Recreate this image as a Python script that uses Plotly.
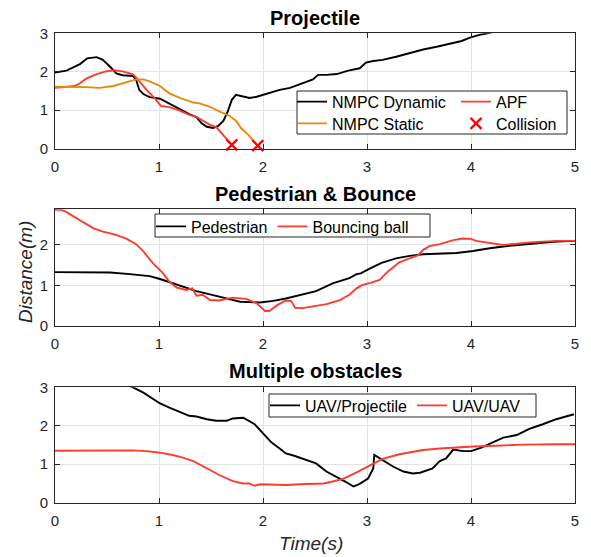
import plotly.graph_objects as go
from plotly.subplots import make_subplots

# ---------------- Data ----------------
# Subplot 1: Projectile
dyn_t = [0, 0.11, 0.24, 0.31, 0.40, 0.46, 0.53, 0.59, 0.65, 0.75, 0.78, 0.81, 0.85, 0.91, 1.01, 1.07,
         1.17, 1.29, 1.36, 1.41, 1.46, 1.52, 1.57, 1.62, 1.66, 1.70, 1.74, 1.81, 1.87, 1.94, 2.03, 2.16,
         2.26, 2.38, 2.48, 2.53, 2.61, 2.71, 2.82, 2.93, 2.99, 3.06, 3.15, 3.28, 3.38, 3.48, 3.54, 3.67,
         3.76, 3.86, 3.91, 3.99, 4.08, 4.16, 4.22]
dyn_d = [1.98, 2.03, 2.20, 2.35, 2.38, 2.31, 2.13, 1.96, 1.91, 1.89, 1.79, 1.53, 1.42, 1.34, 1.30, 1.21,
         1.08, 0.90, 0.82, 0.66, 0.57, 0.54, 0.59, 0.73, 0.96, 1.27, 1.40, 1.35, 1.32, 1.35, 1.42, 1.53,
         1.58, 1.70, 1.80, 1.92, 1.92, 1.94, 2.03, 2.09, 2.24, 2.28, 2.31, 2.39, 2.46, 2.52, 2.58, 2.65,
         2.71, 2.78, 2.80, 2.89, 2.96, 3.00, 3.04]

apf_t = [0, 0.11, 0.19, 0.24, 0.30, 0.40, 0.49, 0.57, 0.65, 0.75, 0.80, 0.88, 0.96, 1.02, 1.10, 1.20,
         1.29, 1.36, 1.42, 1.49, 1.55, 1.60, 1.65, 1.70]
apf_d = [1.58, 1.60, 1.63, 1.70, 1.82, 1.94, 2.01, 2.04, 2.01, 1.93, 1.79, 1.53, 1.31, 1.11, 1.08, 0.99,
         0.88, 0.83, 0.73, 0.62, 0.56, 0.40, 0.24, 0.10]

sta_t = [0, 0.17, 0.30, 0.43, 0.56, 0.69, 0.78, 0.85, 0.91, 1.01, 1.10, 1.20, 1.33, 1.39, 1.49, 1.58,
         1.68, 1.74, 1.79, 1.86, 1.92, 1.95]
sta_d = [1.61, 1.61, 1.60, 1.58, 1.63, 1.73, 1.80, 1.80, 1.75, 1.63, 1.44, 1.32, 1.20, 1.18, 1.09, 0.97,
         0.85, 0.73, 0.53, 0.36, 0.16, 0.07]

col_t = [1.70, 1.95]
col_d = [0.10, 0.08]

# Subplot 2: Pedestrian & Bounce
ped_t = [0, 0.27, 0.53, 0.72, 0.91, 1.01, 1.10, 1.23, 1.36, 1.49, 1.65, 1.78, 1.97, 2.10, 2.22, 2.30,
         2.38, 2.51, 2.67, 2.83, 2.90, 2.94, 3.03, 3.14, 3.28, 3.41, 3.54, 3.70, 3.86, 4.02, 4.18, 4.37,
         4.56, 4.79, 5.0]
ped_d = [1.33, 1.33, 1.32, 1.28, 1.23, 1.16, 1.08, 0.97, 0.86, 0.78, 0.68, 0.60, 0.58, 0.62, 0.68, 0.73,
         0.77, 0.86, 1.05, 1.18, 1.28, 1.30, 1.42, 1.56, 1.67, 1.73, 1.77, 1.79, 1.80, 1.85, 1.92, 1.98,
         2.03, 2.08, 2.10]

ball_t = [0, 0.06, 0.11, 0.21, 0.30, 0.37, 0.46, 0.59, 0.69, 0.78, 0.85, 0.94, 1.04, 1.10, 1.17, 1.26,
          1.32, 1.36, 1.42, 1.49, 1.58, 1.71, 1.84, 1.94, 2.02, 2.06, 2.14, 2.22, 2.27, 2.31, 2.38, 2.48,
          2.61, 2.74, 2.83, 2.90, 2.95, 3.04, 3.12, 3.20, 3.31, 3.41, 3.49, 3.54, 3.60, 3.70, 3.83, 3.92,
          4.00, 4.05, 4.18, 4.31, 4.44, 4.60, 4.82, 5.0]
ball_d = [2.87, 2.87, 2.81, 2.66, 2.53, 2.41, 2.33, 2.25, 2.15, 2.02, 1.84, 1.55, 1.30, 1.09, 0.95, 0.89,
          0.93, 0.75, 0.77, 0.64, 0.63, 0.70, 0.67, 0.56, 0.37, 0.37, 0.52, 0.63, 0.62, 0.45, 0.44, 0.49,
          0.54, 0.64, 0.77, 0.93, 1.01, 1.07, 1.14, 1.34, 1.57, 1.67, 1.74, 1.88, 1.97, 2.02, 2.12, 2.16,
          2.15, 2.10, 2.05, 2.00, 2.03, 2.07, 2.10, 2.10]

# Subplot 3: Multiple obstacles
proj_t = [0.70, 0.75, 0.85, 0.93, 1.01, 1.10, 1.20, 1.29, 1.36, 1.46, 1.55, 1.65, 1.71, 1.81, 1.92, 2.00,
          2.08, 2.16, 2.22, 2.30, 2.38, 2.51, 2.61, 2.71, 2.79, 2.87, 2.93, 3.01, 3.06, 3.07, 3.15, 3.25,
          3.35, 3.44, 3.51, 3.57, 3.63, 3.70, 3.76, 3.83, 3.92, 4.00, 4.10, 4.21, 4.31, 4.44, 4.56, 4.69,
          4.82, 4.99]
proj_d = [3.05, 3.00, 2.86, 2.71, 2.58, 2.47, 2.37, 2.26, 2.24, 2.17, 2.13, 2.13, 2.19, 2.21, 2.04, 1.80,
          1.57, 1.41, 1.28, 1.22, 1.15, 1.02, 0.81, 0.67, 0.55, 0.42, 0.49, 0.63, 0.89, 1.24, 1.11, 0.94,
          0.81, 0.76, 0.78, 0.83, 0.89, 1.08, 1.15, 1.38, 1.34, 1.34, 1.43, 1.57, 1.69, 1.76, 1.92, 2.04,
          2.17, 2.30]

uav_t = [0, 0.43, 0.75, 0.88, 1.01, 1.13, 1.23, 1.33, 1.46, 1.58, 1.71, 1.81, 1.87, 1.92, 1.97, 2.10,
         2.22, 2.35, 2.45, 2.58, 2.67, 2.77, 2.90, 3.03, 3.15, 3.31, 3.47, 3.54, 3.70, 3.86, 4.02, 4.24,
         4.50, 4.82, 5.0]
uav_d = [1.35, 1.35, 1.36, 1.34, 1.30, 1.24, 1.17, 1.08, 0.89, 0.72, 0.56, 0.50, 0.50, 0.44, 0.48, 0.46,
         0.46, 0.48, 0.49, 0.50, 0.55, 0.62, 0.79, 0.98, 1.14, 1.26, 1.33, 1.37, 1.41, 1.44, 1.46, 1.48,
         1.51, 1.52, 1.52]

x_ticks = [0, 1, 2, 3, 4, 5]
y_ticks = [0, 1, 2, 3]
titles = ["Projectile", "Pedestrian & Bounce", "Multiple obstacles"]

# ---------------- Style ----------------
BLACK = "#000000"
RED = "#FF3B2E"
ORANGE = "#E8890C"
FONT = "Liberation Sans, Arial, sans-serif"
AX = "#262626"
LW = 1.9

W, H = 591, 557
ML, MR, MT, MB = 55, 16, 33, 54
PW = W - ML - MR
PH = H - MT - MB
LEG_OFF = 17   # legend top -> item centre
SAMPLE_OFF = 8  # legend left -> sample line start


def px_x(p):
    return (p - ML) / PW


def px_y(p):
    return (H - MB - p) / PH


fig = make_subplots(rows=3, cols=1)

fig.add_trace(go.Scatter(x=dyn_t, y=dyn_d, mode="lines", name="NMPC Dynamic",
                         line=dict(color=BLACK, width=LW), legend="legend"), row=1, col=1)
fig.add_trace(go.Scatter(x=apf_t, y=apf_d, mode="lines", name="APF",
                         line=dict(color=RED, width=LW), legend="legend2"), row=1, col=1)
fig.add_trace(go.Scatter(x=sta_t, y=sta_d, mode="lines", name="NMPC Static",
                         line=dict(color=ORANGE, width=LW), legend="legend3"), row=1, col=1)
fig.add_trace(go.Scatter(x=col_t, y=col_d, mode="markers", name="Collision",
                         marker=dict(symbol="x-thin", size=11, color="#FF0000",
                                     line=dict(color="#FF0000", width=2.2)),
                         cliponaxis=False, legend="legend4"), row=1, col=1)

fig.add_trace(go.Scatter(x=ped_t, y=ped_d, mode="lines", name="Pedestrian",
                         line=dict(color=BLACK, width=LW), legend="legend5"), row=2, col=1)
fig.add_trace(go.Scatter(x=ball_t, y=ball_d, mode="lines", name="Bouncing ball",
                         line=dict(color=RED, width=LW), legend="legend5"), row=2, col=1)

fig.add_trace(go.Scatter(x=proj_t, y=proj_d, mode="lines", name="UAV/Projectile",
                         line=dict(color=BLACK, width=LW), legend="legend6"), row=3, col=1)
fig.add_trace(go.Scatter(x=uav_t, y=uav_d, mode="lines", name="UAV/UAV",
                         line=dict(color=RED, width=LW), legend="legend6"), row=3, col=1)

for tr in fig.data:
    tr.showlegend = True

# domains (pixels of plot boxes)
boxes = [(33.3, 148.7), (209.3, 326.0), (387.3, 502.7)]
yranges = [[0, 3], [0, 2.88], [0, 3]]
yticks_each = [y_ticks, [0, 1, 2], y_ticks]

axis_common = dict(showline=True, linecolor=AX, linewidth=1, mirror="ticks",
                   ticks="inside", ticklen=5, tickcolor=AX, tickwidth=1,
                   showgrid=True, gridcolor="#E3E3E3", gridwidth=1, zeroline=False,
                   tickfont=dict(family=FONT, size=15, color=AX))

for i in range(3):
    top, bot = boxes[i]
    fig.update_xaxes(range=[0, 5], tickvals=x_ticks, ticktext=[str(v) for v in x_ticks],
                     domain=[0, 1], ticklabelstandoff=4, row=i + 1, col=1, **axis_common)
    fig.update_yaxes(range=yranges[i], tickvals=yticks_each[i],
                     ticktext=[str(v) for v in yticks_each[i]], ticklabelstandoff=3,
                     domain=[px_y(bot), px_y(top)], row=i + 1, col=1, **axis_common)

title_y = [18, 194, 371]
annotations = []
for t, yy in zip(titles, title_y):
    annotations.append(dict(text="<b>%s</b>" % t, x=0.5, y=px_y(yy), xref="paper", yref="paper",
                            xanchor="center", yanchor="middle", showarrow=False,
                            font=dict(family=FONT, size=20, color="#000000")))
annotations.append(dict(text="<i>Distance(m)</i>", x=px_x(25), y=px_y(272), xref="paper", yref="paper",
                        xanchor="center", yanchor="middle", textangle=-90, showarrow=False,
                        font=dict(family=FONT, size=19, color=AX)))
annotations.append(dict(text="<i>Time(s)</i>", x=px_x(311), y=px_y(543), xref="paper", yref="paper",
                        xanchor="center", yanchor="middle", showarrow=False,
                        font=dict(family=FONT, size=19, color=AX)))

leg_font = dict(family=FONT, size=16, color="#000000")


def leg(sample_x, centre_y, orient="v"):
    return dict(x=px_x(sample_x - SAMPLE_OFF), y=px_y(centre_y - LEG_OFF),
                xanchor="left", yanchor="top", bgcolor="rgba(0,0,0,0)", borderwidth=0,
                font=leg_font, orientation=orient, tracegroupgap=0)


def box(x0, x1, y0, y1):
    return dict(type="rect", xref="paper", yref="paper",
                x0=px_x(x0), x1=px_x(x1), y0=px_y(y1), y1=px_y(y0),
                line=dict(color=AX, width=1), fillcolor="white", layer="above")


fig.update_layout(
    width=W, height=H,
    margin=dict(l=ML, r=MR, t=MT, b=MB),
    plot_bgcolor="white", paper_bgcolor="white",
    showlegend=True,
    annotations=annotations,
    shapes=[box(297, 567, 91, 134), box(155, 430, 214, 237), box(269, 536, 394, 417)],
    legend=leg(300, 101.7),
    legend2=leg(464, 101.7),
    legend3=leg(300, 123.5),
    legend4=leg(464, 123.5),
    legend5=leg(159, 226.5, "h"),
    legend6=leg(273, 405.5, "h"),
)

fig.write_html("out.html", config={"displayModeBar": False},
               post_script="document.body.style.margin='0px';")
